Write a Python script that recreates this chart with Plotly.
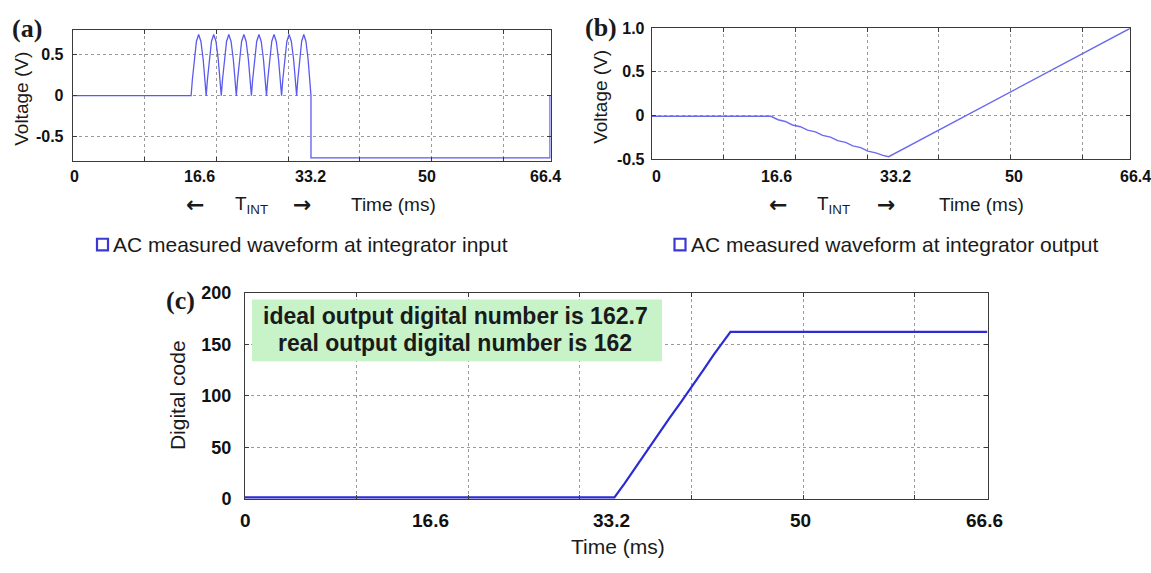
import plotly.graph_objects as go

W, H = 1151, 573

# ---- (a) integrator input: rectified burst, then negative reference ----
hump_edges_ms = [16.5, 18.6, 20.7, 22.8, 24.9, 27.0, 29.1, 31.2, 33.2]
hump_frac = [0.0, 0.08, 0.2, 0.35, 0.5, 0.65, 0.8, 0.92, 1.0]
hump_volts = [0.0, 0.19, 0.44, 0.66, 0.745, 0.66, 0.44, 0.19, 0.0]
ref_level_v = -0.76
input_end_ms = 66.5

# ---- (b) integrator output ----
out_time_ms = [0, 16.6, 17.6, 18.6, 19.6, 20.7, 21.7, 22.8, 23.8, 24.9, 25.9,
               27.0, 28.0, 29.1, 30.1, 31.2, 32.2, 33.0, 66.6]
out_volts = [-0.01, -0.01, -0.05, -0.07, -0.11, -0.13, -0.17, -0.19, -0.23, -0.25,
             -0.29, -0.31, -0.35, -0.37, -0.41, -0.43, -0.46, -0.475, 1.0]

# ---- (c) digital code ----
code_time_ms = [0, 33.1, 34.0, 35.0, 36.0, 37.0, 38.0, 39.0, 40.0, 41.0, 42.0, 43.0, 43.5, 66.5]
code_value = [1.5, 1.5, 15, 31, 46, 62, 78, 93, 108, 124, 140, 155, 162, 162]

# x tick labels (text) and where each one sits along its time axis
a_tick_text = ["0", "16.6", "33.2", "50", "66.4"]
a_tick_at = [0.3, 17.6, 33.2, 49.4, 65.9]
b_tick_text = ["0", "16.6", "33.2", "50", "66.4"]
b_tick_at = [0.7, 17.4, 34.0, 50.4, 67.4]
c_tick_text = ["0", "16.6", "33.2", "50", "66.6"]
c_tick_at = [0, 16.6, 32.8, 49.8, 66.3]
grid_ms = [10, 20, 30, 40, 50, 60]
T_MAX = 66.6

# assemble the input waveform from the hump outline
in_t = [0, hump_edges_ms[0]]
in_v = [0, 0]
for i in range(len(hump_edges_ms) - 1):
    t0, t1 = hump_edges_ms[i], hump_edges_ms[i + 1]
    for f, v in zip(hump_frac[1:], hump_volts[1:]):
        in_t.append(t0 + (t1 - t0) * f)
        in_v.append(v)
in_t += [hump_edges_ms[-1], input_end_ms, input_end_ms]
in_v += [ref_level_v, ref_level_v, 0]

# panel boxes in pixels: left, right, top, bottom
BOX_A = (72.7, 550.7, 20.7, 156.7)
BOX_B = (651.7, 1130, 19, 154.3)
BOX_C = (245, 988.3, 293, 506.7)


def dom_x(box):
    return [box[0] / W, box[1] / W]


def dom_y(box):
    return [1 - box[3] / H, 1 - box[2] / H]


def px(x):
    return x / W


def py(y):
    return 1 - y / H


AX = "#3a3a3a"
GRID = "#9a9a9a"
SANS = "Liberation Sans"
TICK_AB = dict(family=SANS, size=16, color="#111", weight="bold")
TICK_CX = dict(family=SANS, size=19, color="#111", weight="bold")
TICK_CY = dict(family=SANS, size=18, color="#111", weight="bold")

fig = go.Figure()
fig.add_trace(go.Scatter(x=in_t, y=in_v, mode="lines", line=dict(color="#5a5af0", width=1.3),
                         xaxis="x", yaxis="y", showlegend=False, hoverinfo="skip"))
fig.add_trace(go.Scatter(x=out_time_ms, y=out_volts, mode="lines", line=dict(color="#6a6af0", width=1.4),
                         xaxis="x2", yaxis="y2", showlegend=False, hoverinfo="skip"))
fig.add_trace(go.Scatter(x=code_time_ms, y=code_value, mode="lines", line=dict(color="#2c2cd4", width=2.2),
                         xaxis="x3", yaxis="y3", showlegend=False, hoverinfo="skip"))


def xaxis(box, anchor):
    return dict(domain=dom_x(box), anchor=anchor, range=[0, T_MAX], tickmode="array",
                tickvals=grid_ms, ticks="inside", ticklen=4, tickcolor=AX,
                showticklabels=False, showgrid=True, gridcolor=GRID, griddash="dot",
                gridwidth=1, zeroline=False, showline=True, linecolor=AX, linewidth=1,
                mirror="ticks")


def yaxis(box, anchor, rng, tvals, ttext, font, standoff):
    return dict(domain=dom_y(box), anchor=anchor, range=rng, tickmode="array", tickvals=tvals,
                ticktext=ttext, ticks="inside", ticklen=4, tickcolor=AX, showgrid=True,
                gridcolor=GRID, griddash="dot", gridwidth=1, zeroline=False, showline=True,
                linecolor=AX, linewidth=1, mirror="ticks", tickfont=font,
                ticklabelstandoff=standoff)


fig.update_layout(
    width=W, height=H, margin=dict(l=0, r=0, t=0, b=0),
    paper_bgcolor="white", plot_bgcolor="white", showlegend=False,
    xaxis=xaxis(BOX_A, "y"),
    yaxis=yaxis(BOX_A, "x", [-0.8, 0.8], [-0.5, 0, 0.5], ["-0.5", "0", "0.5"], TICK_AB, 5),
    xaxis2=xaxis(BOX_B, "y2"),
    yaxis2=yaxis(BOX_B, "x2", [-0.5, 1.0], [-0.5, 0, 0.5, 1.0],
                 ["-0.5", "0", "0.5", "1.0"], TICK_AB, 3),
    xaxis3=xaxis(BOX_C, "y3"),
    yaxis3=yaxis(BOX_C, "x3", [0, 200], [0, 50, 100, 150, 200],
                 ["0", "50", "100", "150", "200"], TICK_CY, 9),
)

# x tick labels under each panel
for xref, box, texts, spots, ypix, font in [
    ("x", BOX_A, a_tick_text, a_tick_at, 173, TICK_AB),
    ("x2", BOX_B, b_tick_text, b_tick_at, 173, TICK_AB),
    ("x3", BOX_C, c_tick_text, c_tick_at, 529, TICK_CX),
]:
    ms_px = (box[1] - box[0]) / T_MAX
    for text, at in zip(texts, spots):
        anchor = min(at, T_MAX)
        fig.add_annotation(text=text, x=anchor, xshift=(at - anchor) * ms_px,
                           y=py(ypix), xref=xref, yref="paper",
                           xanchor="center", yanchor="middle", showarrow=False, font=font)

# green note box in panel (c)
fig.add_shape(type="rect", xref="paper", yref="paper", x0=px(252), x1=px(662),
              y0=py(364), y1=py(300), fillcolor="#c8f2c8", line=dict(width=0), layer="above")

# legend boxes
for bx, by in [(97, 243), (674.5, 243)]:
    fig.add_shape(type="rect", xref="paper", yref="paper", x0=px(bx), x1=px(bx + 11),
                  y0=py(by + 6), y1=py(by - 6), line=dict(color="#3a3ad0", width=2.2),
                  fillcolor="white")

ARROW = "DejaVu Sans"
notes = [
    # text, x, y, size, family, weight, angle, xanchor
    ("(a)", 27, 19, 26, "Liberation Serif", "bold", 0, "center"),
    ("(b)", 601, 18, 26, "Liberation Serif", "bold", 0, "center"),
    ("(c)", 180, 301, 26, "Liberation Serif", "bold", 0, "center"),
    ("Voltage (V)", 22, 92, 19, SANS, "normal", -90, "center"),
    ("Voltage (V)", 601, 90, 19, SANS, "normal", -90, "center"),
    ("Digital code", 177, 399, 21, SANS, "normal", -90, "center"),
    ("\u2190", 195, 202, 22, ARROW, "bold", 0, "center"),
    ("T<sub>INT</sub>", 251, 202, 19, SANS, "normal", 0, "center"),
    ("\u2192", 302, 202, 22, ARROW, "bold", 0, "center"),
    ("Time (ms)", 393, 202, 19, SANS, "normal", 0, "center"),
    ("\u2190", 778, 202, 22, ARROW, "bold", 0, "center"),
    ("T<sub>INT</sub>", 833, 202, 19, SANS, "normal", 0, "center"),
    ("\u2192", 886, 202, 22, ARROW, "bold", 0, "center"),
    ("Time (ms)", 981, 202, 19, SANS, "normal", 0, "center"),
    ("AC measured waveform at integrator input", 111, 243, 21, SANS, "normal", 0, "left"),
    ("AC measured waveform at integrator output", 689, 243, 21, SANS, "normal", 0, "left"),
    ("Time (ms)", 618, 556, 21, SANS, "normal", 0, "center"),
    ("ideal output digital number is 162.7", 455, 317, 23, SANS, "bold", 0, "center"),
    ("real output digital number is 162", 455, 345, 23, SANS, "bold", 0, "center"),
]
for text, x, y, size, fam, wt, ang, xa in notes:
    fig.add_annotation(text=text, x=px(x), y=py(y), xref="paper", yref="paper",
                       xanchor=xa, yanchor="middle", showarrow=False, textangle=ang,
                       font=dict(family=fam, size=size, color="#1a1a1a", weight=wt))

fig.write_html("out.html")
